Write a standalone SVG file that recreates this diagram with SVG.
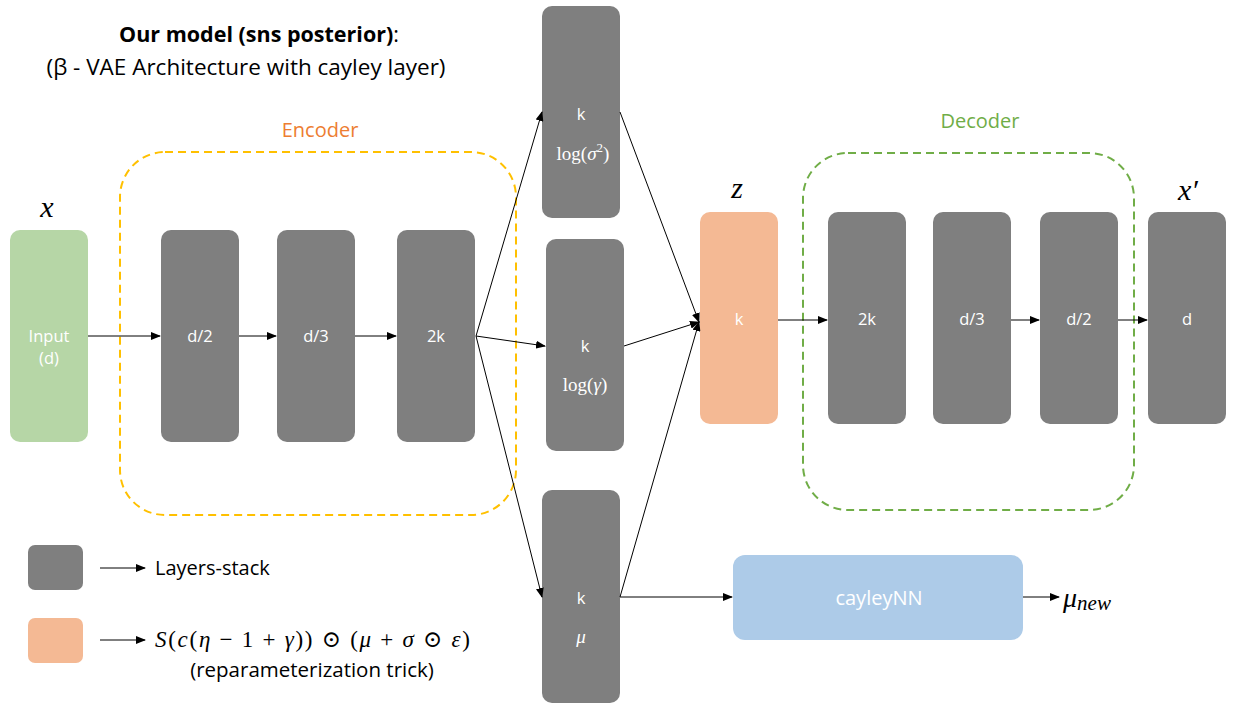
<svg xmlns="http://www.w3.org/2000/svg" width="1233" height="703" viewBox="0 0 1233 703">
<style>
.g{fill:#7f7f7f}
.t{font-family:"Open Sans","Liberation Sans",sans-serif;font-size:16.5px;fill:#fff;text-anchor:middle}
.m{font-family:"Liberation Serif","DejaVu Serif",serif;font-style:italic;fill:#000}
.mw{font-family:"Liberation Serif","DejaVu Serif",serif;fill:#fff;font-size:19px;text-anchor:middle}
.c{stroke:#000;stroke-width:1;fill:none;marker-end:url(#a)}
.h{font-family:"Open Sans","Liberation Sans",sans-serif;fill:#000}
</style>
<defs>
<marker id="a" markerWidth="10" markerHeight="8" refX="9" refY="4" orient="auto" markerUnits="userSpaceOnUse">
<path d="M0,0 L10,4 L0,8 z" fill="#000"/>
</marker>
</defs>
<rect width="1233" height="703" fill="#fff"/>
<g id="title">
<text x="259" y="42" class="h" font-size="21.5" font-weight="bold" text-anchor="middle">Our model (sns posterior)<tspan font-weight="normal">:</tspan></text>
<text x="246" y="75" class="h" font-size="22.5" text-anchor="middle">(β - VAE Architecture with cayley layer)</text>
</g>
<g id="encoder">
<rect x="120" y="152" width="396" height="363" rx="45" fill="none" stroke="#ffc000" stroke-width="2" stroke-dasharray="8,5"/>
<text x="320" y="137" font-family="Open Sans,Liberation Sans,sans-serif" font-size="20" fill="#ed7d31" text-anchor="middle">Encoder</text>
</g>
<g id="decoder">
<rect x="803" y="153" width="331" height="357" rx="45" fill="none" stroke="#70ad47" stroke-width="2" stroke-dasharray="8,5"/>
<text x="980" y="128" font-family="Open Sans,Liberation Sans,sans-serif" font-size="20" fill="#70ad47" text-anchor="middle">Decoder</text>
</g>
<g id="input">
<rect x="10" y="230" width="78" height="212" rx="10" fill="#b6d6a6"/>
<text x="49" y="342" class="t">Input</text>
<text x="49" y="364" class="t">(d)</text>
<text x="47" y="217" class="m" font-size="30" text-anchor="middle">x</text>
</g>
<g id="enc1"><rect x="161" y="230" width="78" height="212" rx="10" class="g"/><text x="200" y="342" class="t">d/2</text></g>
<g id="enc2"><rect x="277" y="230" width="78" height="212" rx="10" class="g"/><text x="316" y="342" class="t">d/3</text></g>
<g id="enc3"><rect x="397" y="230" width="78" height="212" rx="10" class="g"/><text x="436" y="342" class="t">2k</text></g>
<g id="logsigma"><rect x="542" y="6" width="78" height="212" rx="10" class="g"/><text x="581" y="120" class="t">k</text><text x="583" y="160" class="mw">log(<tspan font-style="italic">σ</tspan><tspan font-size="13" dy="-8">2</tspan><tspan dy="8">)</tspan></text></g>
<g id="loggamma"><rect x="546" y="239" width="78" height="212" rx="10" class="g"/><text x="585" y="352" class="t">k</text><text x="585" y="391" class="mw">log(<tspan font-style="italic">γ</tspan>)</text></g>
<g id="mu"><rect x="542" y="490" width="78" height="213" rx="10" class="g"/><text x="581" y="604" class="t">k</text><text x="581" y="643" class="mw" font-style="italic">μ</text></g>
<g id="z"><rect x="700" y="212" width="78" height="212" rx="10" fill="#f4b994"/><text x="739" y="325" class="t">k</text><text x="737" y="198" class="m" font-size="30" text-anchor="middle">z</text></g>
<g id="dec1"><rect x="828" y="212" width="78" height="212" rx="10" class="g"/><text x="867" y="325" class="t">2k</text></g>
<g id="dec2"><rect x="933" y="212" width="78" height="212" rx="10" class="g"/><text x="972" y="325" class="t">d/3</text></g>
<g id="dec3"><rect x="1040" y="212" width="78" height="212" rx="10" class="g"/><text x="1079" y="325" class="t">d/2</text></g>
<g id="output"><rect x="1148" y="212" width="78" height="212" rx="10" class="g"/><text x="1187" y="325" class="t">d</text><text x="1188" y="200" class="m" font-size="30" text-anchor="middle">x′</text></g>
<g id="cayley"><rect x="733" y="555" width="290" height="85" rx="12" fill="#adcbe8"/><text x="879" y="605" class="t" style="font-size:20px">cayleyNN</text>
<text x="1063" y="607" class="m" font-size="28">μ<tspan font-size="21" dy="3">new</tspan></text></g>
<g id="connectors">
<line x1="88" y1="336" x2="160" y2="336" class="c"/>
<line x1="239" y1="336" x2="276" y2="336" class="c"/>
<line x1="355" y1="336" x2="396" y2="336" class="c"/>
<line x1="476" y1="336" x2="542" y2="112" class="c"/>
<line x1="476" y1="336" x2="545" y2="346" class="c"/>
<line x1="476" y1="336" x2="542" y2="597" class="c"/>
<line x1="620" y1="112" x2="699" y2="322" class="c"/>
<line x1="624" y1="346" x2="699" y2="322" class="c"/>
<line x1="620" y1="597" x2="699" y2="322" class="c"/>
<line x1="778" y1="320" x2="827" y2="320" class="c"/>
<line x1="1011" y1="320" x2="1039" y2="320" class="c"/>
<line x1="1118" y1="320" x2="1147" y2="320" class="c"/>
<line x1="620" y1="597" x2="732" y2="597" class="c"/>
<line x1="1023" y1="597" x2="1059" y2="597" class="c"/>
</g>
<g id="legend">
<rect x="28" y="545" width="55" height="45" rx="7" class="g"/>
<line x1="100" y1="568" x2="145" y2="568" class="c"/>
<text x="155" y="575" class="h" font-size="20">Layers-stack</text>
<rect x="28" y="618" width="55" height="45" rx="7" fill="#f4b994"/>
<line x1="100" y1="640" x2="145" y2="640" class="c"/>
<text x="155" y="647" font-family="Liberation Serif,DejaVu Serif,serif" font-size="23" fill="#000" textLength="315" lengthAdjust="spacing"><tspan font-style="italic">S</tspan>(<tspan font-style="italic">c</tspan>(<tspan font-style="italic">η</tspan> − 1 + <tspan font-style="italic">γ</tspan>)) ⊙ (<tspan font-style="italic">μ</tspan> + <tspan font-style="italic">σ</tspan> ⊙ <tspan font-style="italic">ε</tspan>)</text>
<text x="312" y="677" class="h" font-size="20.5" text-anchor="middle">(reparameterization trick)</text>
</g>
</svg>
